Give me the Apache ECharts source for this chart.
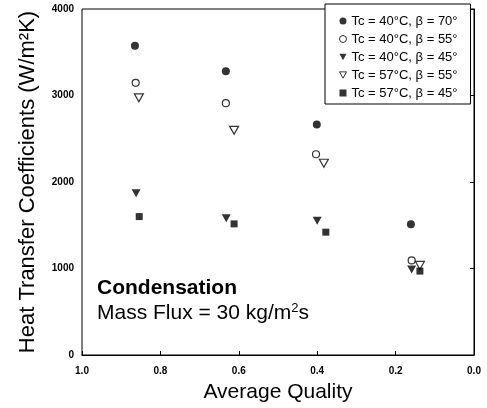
<!DOCTYPE html>
<html><head><meta charset="utf-8">
<script src="https://cdn.jsdelivr.net/npm/echarts@6/dist/echarts.min.js"></script>
<style>html,body{margin:0;padding:0;background:#fff}#c{width:487px;height:408px}</style>
</head><body><div id="c"></div>
<script>
const seriesNames = ['Tc = 40°C, β = 70°','Tc = 40°C, β = 55°','Tc = 40°C, β = 45°','Tc = 57°C, β = 55°','Tc = 57°C, β = 45°'];
const q1 = [0.865, 0.633, 0.401, 0.161];
const v1 = [3575, 3280, 2666, 1512];
const q2 = [0.863, 0.633, 0.403, 0.159];
const v2 = [3146, 2911, 2321, 1093];
const q3 = [0.862, 0.632, 0.400, 0.159];
const v3 = [1870, 1581, 1553, 988];
const q4 = [0.855, 0.612, 0.383, 0.138];
const v4 = [2973, 2597, 2217, 1036];
const q5 = [0.854, 0.612, 0.378, 0.138];
const v5 = [1600, 1516, 1420, 970];
const xTicks = [0, 0.2, 0.4, 0.6, 0.8, 1.0];
const yTicks = [0, 1000, 2000, 3000, 4000];

const pairs = (q, v) => q.map((x, i) => [x, v[i]]);
const font = 'Liberation Sans, Arial, Helvetica, sans-serif';
const downTri = 'path://M0,0 L10,0 L5,9 Z';
const styles = [
  {symbol:'circle', symbolSize:8, itemStyle:{color:'#000'}},
  {symbol:'circle', symbolSize:7, itemStyle:{color:'#fff', borderColor:'#000', borderWidth:1.2}},
  {symbol:downTri, symbolSize:[9,8], itemStyle:{color:'#000'}},
  {symbol:downTri, symbolSize:[9,8], itemStyle:{color:'#fff', borderColor:'#000', borderWidth:1.2}},
  {symbol:'rect', symbolSize:7, itemStyle:{color:'#000'}}
];
const legendIcons = ['circle', 'circle', downTri, downTri, 'rect'];
const datas = [pairs(q1,v1), pairs(q2,v2), pairs(q3,v3), pairs(q4,v4), pairs(q5,v5)];

const chart = echarts.init(document.getElementById('c'), null, {renderer:'canvas'});
chart.setOption({
  animation:false,
  backgroundColor:'#fff',
  grid:{left:82, right:13, top:9, bottom:51, show:true, borderColor:'#000', borderWidth:1},
  legend:{
    orient:'vertical', left:325, top:4,
    padding:[10,6,4,14], itemGap:4, itemWidth:7, itemHeight:7, itemTextGap:7,
    backgroundColor:'#fff', borderColor:'#000', borderWidth:1,
    itemStyle:{borderWidth:1},
    textStyle:{fontFamily:font, fontSize:13, lineHeight:14, color:'#000', width:113},
    data: seriesNames.map((n, i) => ({name:n, icon:legendIcons[i]}))
  },
  xAxis:{
    type:'value', min:0, max:1, interval:0.2, inverse:true,
    name:'Average Quality', nameLocation:'middle', nameGap:27,
    nameTextStyle:{fontFamily:font, fontSize:21, color:'#000'},
    axisLine:{show:true, onZero:false, lineStyle:{color:'#000', width:1}},
    axisTick:{show:true, inside:true, length:4, lineStyle:{color:'#000'}},
    axisLabel:{fontFamily:font, fontSize:10, fontWeight:'bold', color:'#000', margin:11,
      formatter:v => v.toFixed(1)},
    splitLine:{show:false}
  },
  yAxis:{
    type:'value', min:0, max:4000, interval:1000,
    name:'Heat Transfer Coefficients (W/m²K)', nameLocation:'middle', nameGap:43,
    nameTextStyle:{fontFamily:font, fontSize:22, color:'#000'},
    axisLine:{show:true, lineStyle:{color:'#000', width:1}},
    axisTick:{show:true, inside:false, length:4, lineStyle:{color:'#000'}},
    axisLabel:{fontFamily:font, fontSize:10, fontWeight:'bold', color:'#000', margin:8,
      formatter:v => String(v)},
    splitLine:{show:false}
  },
  graphic:[
    {type:'text', left:97, top:278, style:{text:'Condensation', font:'bold 21px '+font, fill:'#000'}},
    {type:'text', left:97, top:302, style:{
      text:'Mass Flux = 30 kg/m{sup|2}s', font:'21px '+font, fill:'#000',
      rich:{sup:{fontSize:13, fontFamily:font, verticalAlign:'top', padding:[0,0,9,0]}}
    }}
  ],
  series: datas.map((d, i) => Object.assign({
    type:'scatter', name:seriesNames[i], data:d, z:3
  }, styles[i]))
});
</script></body></html>
